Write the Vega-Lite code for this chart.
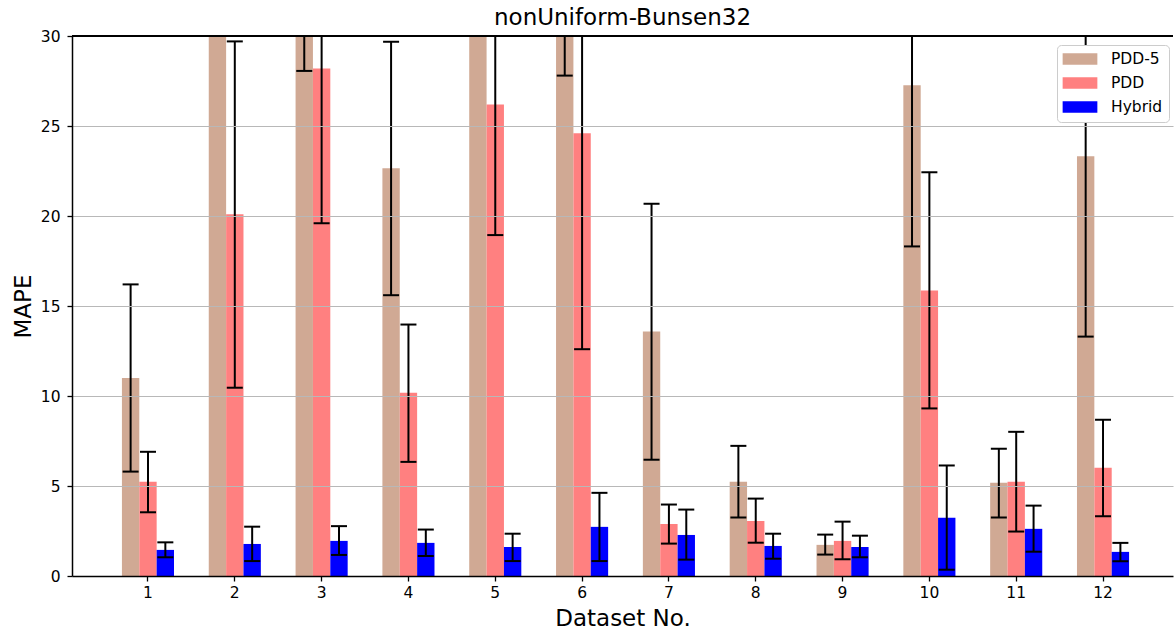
{
  "$schema": "https://vega.github.io/schema/vega-lite/v6.json",
  "autosize": {"type": "none"},
  "padding": {"left": 72, "top": 36, "right": 1, "bottom": 61},
  "width": 1101,
  "height": 540,
  "title": {"text": "nonUniform-Bunsen32", "fontSize": 23, "fontWeight": "normal", "font": "DejaVu Sans", "color": "black", "frame": "group", "offset": -1},
  "config": {"view": {"stroke": null}, "font": "DejaVu Sans"},
  "data": {"values": [
    {"d": 1, "s": "PDD-5", "v": 11.0, "lo": 5.8, "hi": 16.2},
    {"d": 1, "s": "PDD", "v": 5.23, "lo": 3.54, "hi": 6.9},
    {"d": 1, "s": "Hybrid", "v": 1.45, "lo": 1.04, "hi": 1.87},
    {"d": 2, "s": "PDD-5", "v": 45, "lo": 35, "hi": 55},
    {"d": 2, "s": "PDD", "v": 20.1, "lo": 10.46, "hi": 29.7},
    {"d": 2, "s": "Hybrid", "v": 1.78, "lo": 0.83, "hi": 2.74},
    {"d": 3, "s": "PDD-5", "v": 33.4, "lo": 28.06, "hi": 38.7},
    {"d": 3, "s": "PDD", "v": 28.2, "lo": 19.6, "hi": 36.8},
    {"d": 3, "s": "Hybrid", "v": 1.95, "lo": 1.17, "hi": 2.77},
    {"d": 4, "s": "PDD-5", "v": 22.65, "lo": 15.6, "hi": 29.68},
    {"d": 4, "s": "PDD", "v": 10.18, "lo": 6.34, "hi": 13.97},
    {"d": 4, "s": "Hybrid", "v": 1.84, "lo": 1.11, "hi": 2.58},
    {"d": 5, "s": "PDD-5", "v": 42, "lo": 34, "hi": 50},
    {"d": 5, "s": "PDD", "v": 26.2, "lo": 18.94, "hi": 33.5},
    {"d": 5, "s": "Hybrid", "v": 1.61, "lo": 0.83, "hi": 2.35},
    {"d": 6, "s": "PDD-5", "v": 33.0, "lo": 27.8, "hi": 38.2},
    {"d": 6, "s": "PDD", "v": 24.6, "lo": 12.6, "hi": 36.6},
    {"d": 6, "s": "Hybrid", "v": 2.73, "lo": 0.83, "hi": 4.62},
    {"d": 7, "s": "PDD-5", "v": 13.58, "lo": 6.46, "hi": 20.68},
    {"d": 7, "s": "PDD", "v": 2.89, "lo": 1.8, "hi": 3.97},
    {"d": 7, "s": "Hybrid", "v": 2.28, "lo": 0.91, "hi": 3.69},
    {"d": 8, "s": "PDD-5", "v": 5.23, "lo": 3.25, "hi": 7.23},
    {"d": 8, "s": "PDD", "v": 3.06, "lo": 1.85, "hi": 4.3},
    {"d": 8, "s": "Hybrid", "v": 1.67, "lo": 0.96, "hi": 2.35},
    {"d": 9, "s": "PDD-5", "v": 1.73, "lo": 1.19, "hi": 2.3},
    {"d": 9, "s": "PDD", "v": 1.95, "lo": 0.93, "hi": 3.02},
    {"d": 9, "s": "Hybrid", "v": 1.61, "lo": 1.04, "hi": 2.24},
    {"d": 10, "s": "PDD-5", "v": 27.27, "lo": 18.31, "hi": 36.2},
    {"d": 10, "s": "PDD", "v": 15.86, "lo": 9.31, "hi": 22.43},
    {"d": 10, "s": "Hybrid", "v": 3.23, "lo": 0.35, "hi": 6.14},
    {"d": 11, "s": "PDD-5", "v": 5.18, "lo": 3.25, "hi": 7.07},
    {"d": 11, "s": "PDD", "v": 5.23, "lo": 2.47, "hi": 8.01},
    {"d": 11, "s": "Hybrid", "v": 2.62, "lo": 1.35, "hi": 3.91},
    {"d": 12, "s": "PDD-5", "v": 23.32, "lo": 13.3, "hi": 33.3},
    {"d": 12, "s": "PDD", "v": 6.01, "lo": 3.32, "hi": 8.68},
    {"d": 12, "s": "Hybrid", "v": 1.34, "lo": 0.82, "hi": 1.84}
  ]},
  "layer": [
    {
      "mark": {"type": "bar", "clip": true},
      "encoding": {
        "x": {"field": "d", "type": "ordinal",
          "scale": {"paddingInner": 0.4, "paddingOuter": 0.5405, "align": 0.532},
          "axis": {"title": "Dataset No.", "zindex": 2, "labelAngle": 0, "labelFontSize": 15.5, "labelColor": "black", "labelPadding": 4, "tickSize": 5, "tickColor": "black", "tickWidth": 1.3, "domainColor": "black", "domainWidth": 1.5, "titleFontSize": 23, "titleFontWeight": "normal", "titleColor": "black", "titlePadding": 7}},
        "xOffset": {"field": "s", "type": "nominal", "sort": ["PDD-5", "PDD", "Hybrid"], "scale": {"paddingInner": 0, "paddingOuter": 0}},
        "y": {"field": "v", "type": "quantitative",
          "scale": {"domain": [0, 30], "nice": false, "zero": true},
          "axis": {"title": "MAPE", "values": [0, 5, 10, 15, 20, 25, 30], "zindex": 1, "grid": true, "gridColor": "#b8b8b8", "gridWidth": 1.2,
            "gridOpacity": {"condition": {"test": "datum.value === 0 || datum.value === 30", "value": 0}, "value": 1},
            "labelFontSize": 15.5, "labelColor": "black", "labelPadding": 7, "tickSize": 5, "tickColor": "black", "tickWidth": 1.3, "domainColor": "black", "domainWidth": 1.5, "titleFontSize": 23, "titleFontWeight": "normal", "titleColor": "black", "titlePadding": 5}},
        "color": {"field": "s", "type": "nominal", "sort": ["PDD-5", "PDD", "Hybrid"],
          "scale": {"domain": ["PDD-5", "PDD", "Hybrid"], "range": ["#d0a994", "#ff8080", "#0000ff"]},
          "legend": {"title": null, "orient": "none", "legendX": 985, "legendY": 9, "symbolType": "M-2.17,-0.723H2.17V0.723H-2.17Z", "symbolSize": 256, "symbolOffset": 9, "symbolStrokeWidth": 0, "symbolOpacity": 1, "labelFontSize": 15.5, "labelColor": "black", "labelOffset": 23, "rowPadding": 7, "padding": 6, "strokeColor": "#cccccc", "fillColor": "white", "cornerRadius": 4}}
      }
    },
    {
      "mark": {"type": "rule", "clip": true, "color": "black", "strokeWidth": 2},
      "encoding": {
        "x": {"field": "d", "type": "ordinal"},
        "xOffset": {"field": "s", "type": "nominal", "sort": ["PDD-5", "PDD", "Hybrid"]},
        "y": {"field": "lo", "type": "quantitative"}, "y2": {"field": "hi"}}
    },
    {
      "mark": {"type": "tick", "clip": true, "color": "black", "size": 16, "thickness": 2, "opacity": 1},
      "encoding": {
        "x": {"field": "d", "type": "ordinal"},
        "xOffset": {"field": "s", "type": "nominal", "sort": ["PDD-5", "PDD", "Hybrid"]},
        "y": {"field": "lo", "type": "quantitative"}}
    },
    {
      "mark": {"type": "tick", "clip": true, "color": "black", "size": 16, "thickness": 2, "opacity": 1},
      "encoding": {
        "x": {"field": "d", "type": "ordinal"},
        "xOffset": {"field": "s", "type": "nominal", "sort": ["PDD-5", "PDD", "Hybrid"]},
        "y": {"field": "hi", "type": "quantitative"}}
    },
    {
      "mark": {"type": "rule", "color": "black", "strokeWidth": 1.5},
      "encoding": {"y": {"datum": 30}}
    }
  ]
}
